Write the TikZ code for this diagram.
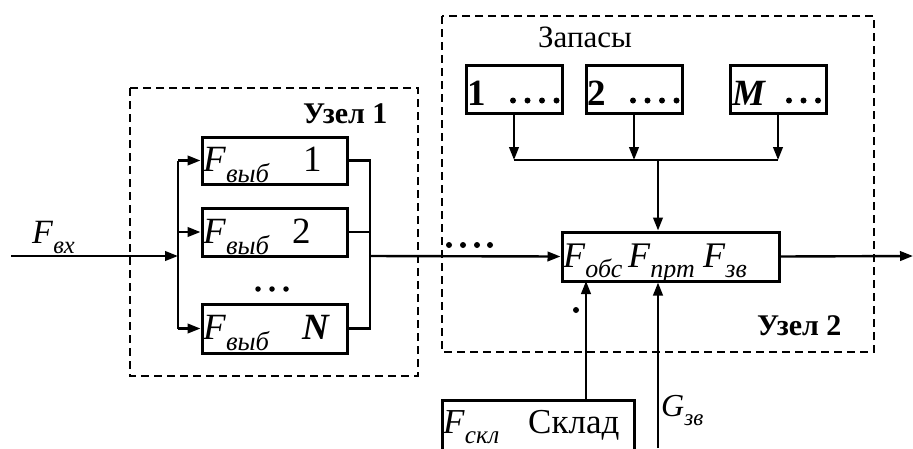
\documentclass[tikz,border=0pt]{standalone}
\usepackage{fontspec}
\usepackage{graphicx}
\setmainfont{Liberation Serif}
\usetikzlibrary{arrows.meta}
% italic symbol with a lowered, reduced italic index
\newcommand\idx[2]{\textit{#1}\raisebox{-0.3em}{\scalebox{0.72}{\textit{#2}}}}
\begin{document}
\begin{tikzpicture}[x=1pt,y=-1pt,
  box/.style={draw, line width=3pt, inner sep=0pt},
  grp/.style={draw, line width=1.8pt, dash pattern=on 8pt off 5pt},
  lbl/.style={inner sep=0pt, anchor=base west},
  big/.style={lbl, font=\fontsize{37}{40}\selectfont},
  mid/.style={lbl, font=\fontsize{34}{38}\selectfont},
  head/.style={lbl, font=\fontsize{30}{34}\selectfont\bfseries},
  wire/.style={line width=2.4pt},
  arr/.style={wire, -{Triangle[length=13pt,width=9.5pt]}},
  pt/.style={fill, circle, inner sep=0pt, minimum size=#1},
  pt/.default=6pt]
\useasboundingbox (0,0) rectangle (913,448);
\clip (0,0) rectangle (913,448);

% dashed group frames
\draw[grp] (130,88) rectangle (418,376);
\draw[grp] (442,16) rectangle (874,352);
\node[head] (u1) at (303,123) {Узел 1};
\node[head] (u2) at (757,335) {Узел 2};
\node[lbl, font=\fontsize{31}{34}\selectfont] (zap) at (538,47) {Запасы};

% parallel selection blocks
\node[box, minimum width=145, minimum height=47] (b1) at (274.5,160.5) {};
\node[box, minimum width=145, minimum height=48] (b2) at (274.5,232) {};
\node[box, minimum width=145, minimum height=49] (bN) at (274.5,328.5) {};
\node[big] (t1) at (203,171) {\idx{F}{выб}};
\node[big] (n1) at (303,171) {1};
\node[big] (t2) at (203,243) {\idx{F}{выб}};
\node[big] (n2) at (292,243) {2};
\node[big] (tN) at (203,339) {\idx{F}{выб}};
\node[big] (nN) at (302,339) {\textbf{\textit{N}}};
\foreach \x [count=\i] in {258,272,286}
  \node[pt=5.5pt] (vd\i) at (\x,289) {};

% stock blocks
\node[box, minimum width=96, minimum height=48] (s1) at (514,89) {};
\node[box, minimum width=96, minimum height=48] (s2) at (634,89) {};
\node[box, minimum width=96, minimum height=48] (sM) at (778,89) {};
\node[big] (s1n) at (467,105) {\textbf{1}};
\node[big] (s2n) at (587,105) {\textbf{2}};
\node[big] (sMn) at (732,105) {\textbf{\textit{M}}};
\foreach \x [count=\i] in {513,527.5,542,556.5}
  \node[pt] (d1\i) at (\x,100.5) {};
\foreach \x [count=\i] in {633,647.5,662,676.5}
  \node[pt] (d2\i) at (\x,100.5) {};
\foreach \x [count=\i] in {789,803.5,818}
  \node[pt] (dM\i) at (\x,100.5) {};

% main block
\node[box, minimum width=217, minimum height=49] (mb) at (670.5,256.5) {};
\node[lbl, font=\fontsize{36}{40}\selectfont] (m1) at (563,267) {\idx{F}{обс}};
\node[lbl, font=\fontsize{36}{40}\selectfont] (m2) at (628,267) {\idx{F}{прт}};
\node[lbl, font=\fontsize{36}{40}\selectfont] (m3) at (703,267) {\idx{F}{зв}};

% warehouse block
\node[box, minimum width=192, minimum height=70] (sk) at (538,435) {};
\node[lbl, font=\fontsize{35}{38}\selectfont] (skf) at (443,433) {\idx{F}{скл}};
\node[lbl, font=\fontsize{35}{38}\selectfont] (skt) at (528,433) {Склад};

% signal labels and marks
\node[mid] (fin) at (32,243) {\idx{F}{вх}};
\node[lbl, font=\fontsize{32}{36}\selectfont] (gz) at (661,416) {\idx{G}{зв}};
\foreach \x [count=\i] in {449,463,477,490}
  \node[pt] (hd\i) at (\x,245) {};
\node[pt] (sd) at (576,310) {};

% connection points
\coordinate (in) at (11,256);
\coordinate (lb) at (178,256);
\coordinate (rb) at (370,256);
\coordinate (jl) at (514,160);
\coordinate (jr) at (778,160);
\coordinate (jc) at (658,160);
\coordinate (out) at (913,256);
\coordinate (pk) at (586,281);
\coordinate (gb) at (658,448);

% input and fan-out
\draw[arr] (in) -- (lb);
\draw[wire] (lb |- b1.west) -- (lb |- bN.west);
\draw[arr] (lb |- b1.west) -- (b1.west);
\draw[arr] (lb |- b2.west) -- (b2.west);
\draw[arr] (lb |- bN.west) -- (bN.west);
% fan-in
\draw[wire] (b1.east) -- (rb |- b1.east) -- (rb |- bN.east) -- (bN.east);
\draw[wire] (b2.east) -- (rb |- b2.east);
\draw[arr] (rb) -- (mb.west);
% stocks
\draw[arr] (s1.south) -- (s1.south |- jl);
\draw[arr] (s2.south) -- (s2.south |- jl);
\draw[arr] (sM.south) -- (sM.south |- jl);
\draw[wire] (jl) -- (jr);
\draw[arr] (jc) -- (jc |- mb.north);
% output and lower inputs
\draw[arr] (mb.east) -- (out);
\draw[arr] (pk |- sk.north) -- (pk);
\draw[arr] (gb) -- (gb |- mb.south);
\end{tikzpicture}
\end{document}
